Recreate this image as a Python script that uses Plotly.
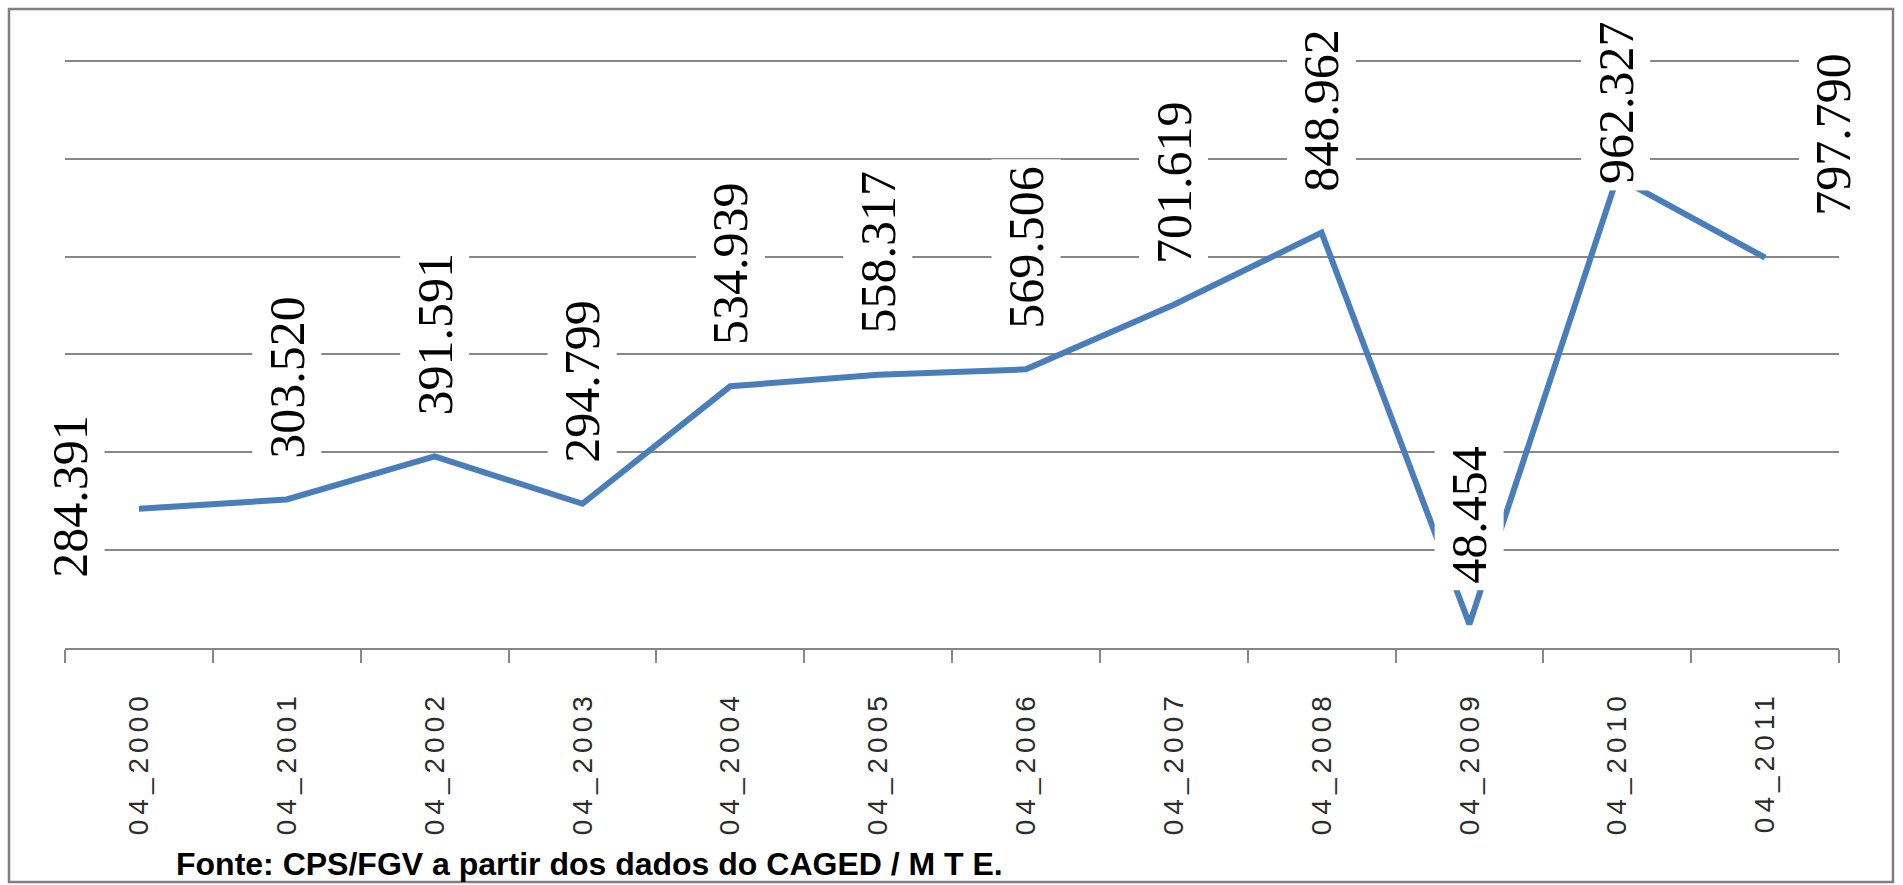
import plotly.graph_objects as go

# ---- data ----
categories = ["04_2000", "04_2001", "04_2002", "04_2003", "04_2004", "04_2005",
              "04_2006", "04_2007", "04_2008", "04_2009", "04_2010", "04_2011"]
values = [284391, 303520, 391591, 294799, 534939, 558317,
          569506, 701619, 848962, 48454, 962327, 797790]
value_labels = [f"{v:,}".replace(",", ".") for v in values]
source_note = "Fonte: CPS/FGV a partir dos dados do CAGED / M T E."

# axis scale
y_max_grid = 1200000
y_step = 200000
y_top = 1210000  # a little headroom so the top gridline is drawn

# ---- layout constants (pixels) ----
W, H = 1903, 885
L, R = 65, 64
grid_top_px, axis_px = 61, 648
px_per_unit = (axis_px - grid_top_px) / y_max_grid
T = round(grid_top_px - (y_top - y_max_grid) * px_per_unit)
B = H - axis_px
plot_w = W - L - R
plot_h = H - T - B

LINE_COLOR = "#4A7EBB"
GRID_COLOR = "#878787"

# special label placements (others sit above the point)
label_overrides = {
    "04_2000": dict(xanchor="center", yanchor="middle", xshift=-69, yshift=13),
    "04_2010": dict(xanchor="center", yanchor="bottom", xshift=-2, yshift=-14),
    "04_2011": dict(xanchor="center", yanchor="middle", xshift=68, yshift=123),
}

fig = go.Figure()
fig.add_trace(go.Scatter(
    x=categories, y=values, mode="lines",
    line=dict(color=LINE_COLOR, width=6),
    hoverinfo="skip", showlegend=False,
))

annotations = []
for cat, val, txt in zip(categories, values, value_labels):
    pos = dict(xanchor="center", yanchor="bottom", xshift=0, yshift=34)
    pos.update(label_overrides.get(cat, {}))
    annotations.append(dict(
        x=cat, y=val, xref="x", yref="y", text=txt, showarrow=False,
        textangle=-90, bgcolor="white", borderpad=6,
        font=dict(family="Liberation Serif, Times New Roman, serif", size=50, color="black"),
        **pos,
    ))

def py(px):
    """pixel row -> paper y"""
    return (T + plot_h - px) / plot_h

def px_x(px):
    return (px - L) / plot_w

# source note
annotations.append(dict(
    text=f"<b>{source_note}</b>", showarrow=False,
    xref="paper", yref="paper",
    x=px_x(175), y=py(883),
    xanchor="left", yanchor="bottom", borderpad=0,
    font=dict(family="Liberation Sans, Arial, sans-serif", size=32, color="black"),
))

# outer frame
shapes = [dict(
    type="rect", xref="paper", yref="paper",
    x0=px_x(9), x1=px_x(1893), y0=py(882), y1=py(9),
    line=dict(color="#808080", width=2.5), fillcolor="rgba(0,0,0,0)", layer="below",
)]

fig.update_layout(
    width=W, height=H, autosize=False,
    margin=dict(l=L, r=R, t=T, b=B, pad=0),
    paper_bgcolor="white", plot_bgcolor="white",
    annotations=annotations, shapes=shapes,
    showlegend=False,
)
fig.update_xaxes(
    type="category", categoryorder="array", categoryarray=categories,
    range=[-0.5, len(categories) - 0.5],
    showgrid=False, showline=True, linecolor=GRID_COLOR, linewidth=2,
    ticks="outside", tickson="boundaries", ticklen=13, tickwidth=2, tickcolor=GRID_COLOR,
    tickangle=-90, ticklabelstandoff=30,
    tickfont=dict(family="Liberation Sans, Arial, sans-serif", size=28, color="#2b2b2b"),
    zeroline=False, fixedrange=True,
)
fig.update_yaxes(
    range=[0, y_top], dtick=y_step, tick0=0,
    showgrid=True, gridcolor=GRID_COLOR, gridwidth=2,
    showticklabels=False, showline=False, zeroline=False, ticks="",
    fixedrange=True,
)

post = (
    "document.body.style.margin='0';"
    "var gd=document.getElementById('{plot_id}');"
    "gd.querySelectorAll('.xtick text').forEach(function(t){"
    "t.style.letterSpacing='5px';});"
)
fig.write_html("out.html", post_script=post, config={"displayModeBar": False})
